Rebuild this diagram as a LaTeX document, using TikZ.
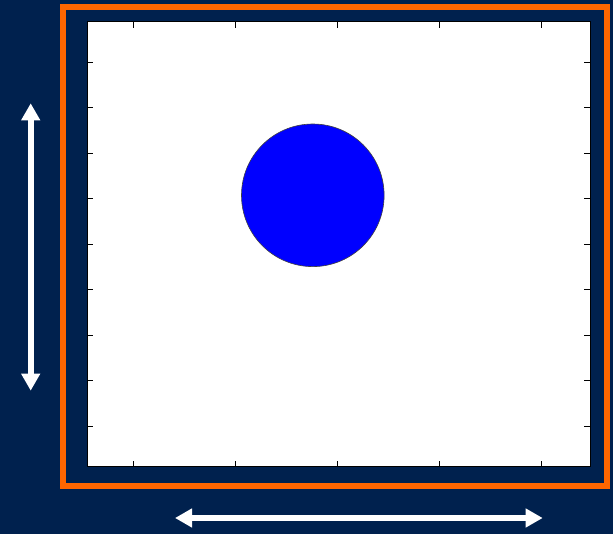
\documentclass[tikz,border=0pt]{standalone}
\usepackage{xcolor}
\usepackage{tikz}
\usetikzlibrary{arrows.meta}

\definecolor{navy}{RGB}{0,33,78}
\definecolor{frameorange}{RGB}{255,102,0}
\definecolor{dotblue}{RGB}{0,0,255}

\begin{document}
\begin{tikzpicture}[
  x=1pt, y=-1pt,
  frame/.style={draw=frameorange, line width=6pt},
  axes/.style={draw=black, fill=white, line width=1pt},
  tick/.style={draw=black, line width=0.9pt},
  dot/.style={circle, fill=dotblue, draw=black!75, line width=0.6pt, minimum size=142.6pt, inner sep=0pt},
  span/.style={draw=white, line width=6pt, {Triangle[length=17pt,width=18pt]}-{Triangle[length=17pt,width=18pt]}}
]
% background and bounding box
\fill[navy] (0,0) rectangle (613,534);
\useasboundingbox (0,0) rectangle (613,534);

% orange frame
\draw[frame] (63,7) rectangle (607,486);

% plot area
\draw[axes] (87.3,22) rectangle (590,466.7);
\foreach \xt in {133,235,337,439,541} {
  \draw[tick] (\xt,22) -- (\xt,28);
  \draw[tick] (\xt,466.7) -- (\xt,460.7);
}
\foreach \k in {0,...,8} {
  \pgfmathsetmacro{\yt}{62+45.5*\k}
  \draw[tick] (87.3,\yt) -- (93.3,\yt);
  \draw[tick] (590,\yt) -- (584,\yt);
}

% marker
\node (disk) at (312.8,195.3) [dot] {};

% dimension arrows
\coordinate (vtop) at (30.7,103.3);
\coordinate (vbot) at (30.7,390.7);
\coordinate (hleft) at (175,518);
\coordinate (hright) at (542.7,518);

\draw [span] (vtop) -- (vbot);
\draw [span] (hleft) -- (hright);

\end{tikzpicture}
\end{document}
